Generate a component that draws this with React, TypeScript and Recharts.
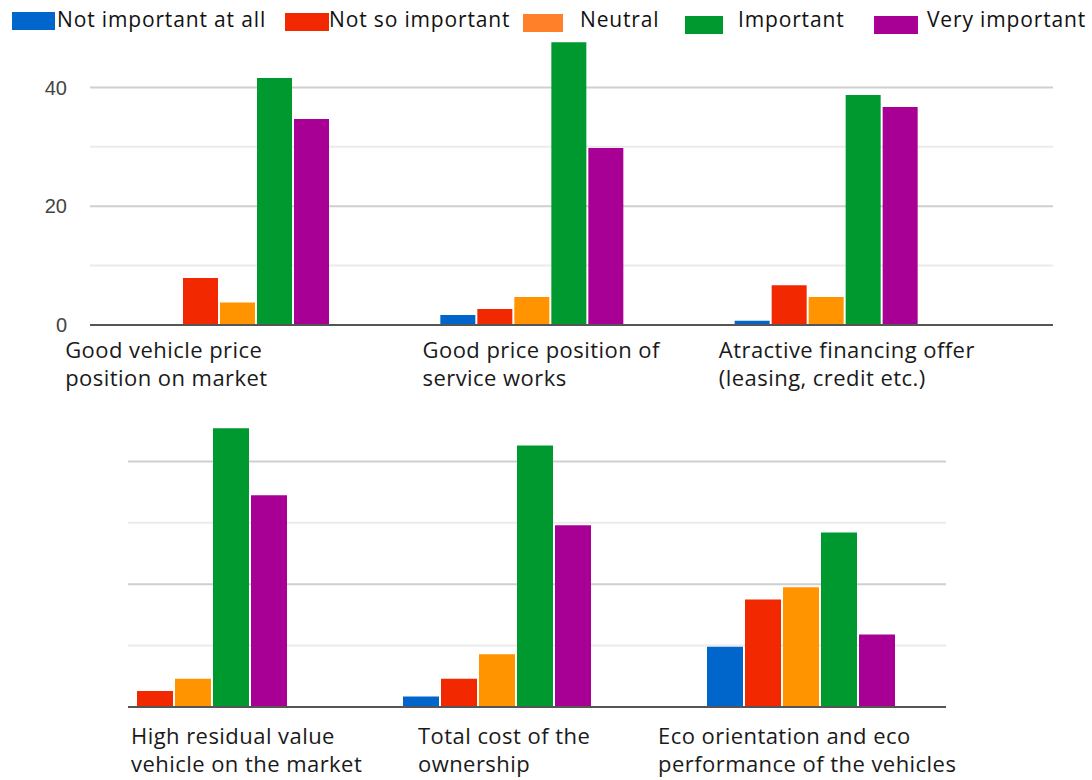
import React from "react";
import { BarChart, Bar, XAxis, YAxis, CartesianGrid, Legend } from "recharts";

const seriesNames = ["Not important at all", "Not so important", "Neutral", "Important", "Very important"];
const seriesKeys = ["notImportant", "notSo", "neutral", "important", "very"];
const barColors = ["#0066CC", "#F22900", "#FF9300", "#009930", "#A80094"];
const legendColors = ["#0066CC", "#F22900", "#FF8028", "#009930", "#A80094"];

const topCategories = [
  "Good vehicle price\nposition on market",
  "Good price position of\nservice works",
  "Atractive financing offer\n(leasing, credit etc.)",
];
const notImportantTop = [0, 1.7, 0.7];
const notSoTop = [7.9, 2.7, 6.7];
const neutralTop = [3.8, 4.7, 4.7];
const importantTop = [41.6, 47.6, 38.7];
const veryTop = [34.7, 29.8, 36.7];

const bottomCategories = [
  "High residual value\nvehicle on the market",
  "Total cost of the\nownership",
  "Eco orientation and eco\nperformance of the vehicles",
];
const notImportantBottom = [0, 1.7, 9.8];
const notSoBottom = [2.6, 4.6, 17.5];
const neutralBottom = [4.6, 8.6, 19.5];
const importantBottom = [45.4, 42.6, 28.4];
const veryBottom = [34.5, 29.6, 11.8];

const yDomain = [0, 50];
const yTickValues = [0, 20, 40];
const majorGrid = [20, 40];
const minorGrid = [10, 30];

function buildRows(cats: string[], cols: number[][]) {
  return cats.map((c, i) => {
    const row: any = { category: c };
    seriesKeys.forEach((k, j) => {
      row[k] = cols[j][i];
    });
    return row;
  });
}

const topData = buildRows(topCategories, [notImportantTop, notSoTop, neutralTop, importantTop, veryTop]);
const bottomData = buildRows(bottomCategories, [
  notImportantBottom,
  notSoBottom,
  neutralBottom,
  importantBottom,
  veryBottom,
]);

const labelFont = "'Open Sans', 'Noto Sans', sans-serif";

function makeTick(dxs: number[], dy1: number, lineGap: number) {
  return (props: any) => {
    const { x, y, payload, index } = props;
    const lines = String(payload.value).split("\n");
    return (
      <text
        x={x + dxs[index]}
        y={y + dy1}
        textAnchor="start"
        fill="#1a1a1a"
        fontSize={22}
        letterSpacing={0.45}
        fontFamily={labelFont}
      >
        {lines.map((l, i) => (
          <tspan key={i} x={x + dxs[index]} dy={i === 0 ? 0 : lineGap}>
            {l}
          </tspan>
        ))}
      </text>
    );
  };
}

const legendSquareLeft = [12, 285, 523, 685, 874];
const legendSquareWidth = [43, 44, 40, 38, 44];
const legendSquareTop = [12, 13, 14, 16, 16];
const legendTextLeft = [57, 329, 580, 738, 927];

function LegendContent() {
  return (
    <div style={{ position: "relative", width: 1092, height: 40 }}>
      {seriesNames.map((n, i) => (
        <React.Fragment key={n}>
          <div
            style={{
              position: "absolute",
              left: legendSquareLeft[i],
              top: legendSquareTop[i],
              width: legendSquareWidth[i],
              height: 18,
              background: legendColors[i],
            }}
          />
          <div
            style={{
              position: "absolute",
              left: legendTextLeft[i],
              top: 5,
              fontSize: 21,
              letterSpacing: 0.85,
              lineHeight: "28px",
              fontFamily: labelFont,
              color: "#111",
              whiteSpace: "nowrap",
            }}
          >
            {n}
          </div>
        </React.Fragment>
      ))}
    </div>
  );
}

export default function App() {
  return (
    <div
      style={{
        position: "absolute",
        left: 0,
        top: 0,
        width: 1092,
        height: 780,
        background: "#fff",
        overflow: "hidden",
      }}
    >
      <div style={{ position: "absolute", left: 0, top: 0 }}>
        <BarChart
          width={1092}
          height={400}
          data={topData}
          margin={{ top: 28, right: 39, bottom: 0, left: 0 }}
          barCategoryGap={56}
          barGap={2}
        >
          <CartesianGrid horizontalValues={minorGrid} vertical={false} stroke="#ebebeb" strokeWidth={2} />
          <CartesianGrid horizontalValues={majorGrid} vertical={false} stroke="#cfcfcf" strokeWidth={2} />
          <XAxis
            dataKey="category"
            height={75}
            padding={{ left: 0, right: 80 }}
            tickLine={false}
            tickSize={0}
            tickMargin={0}
            axisLine={{ stroke: "#555", strokeWidth: 2 }}
            tick={makeTick([-172, -109, -107], 33, 28)}
            interval={0}
          />
          <YAxis
            width={90}
            domain={yDomain}
            ticks={yTickValues}
            axisLine={false}
            tickLine={false}
            tickSize={0}
            tickMargin={23}
            tick={{ fill: "#444", fontSize: 20, fontFamily: "'Liberation Sans', Arial, sans-serif" }}
          />
          <Legend
            layout="horizontal"
            verticalAlign="middle"
            align="center"
            wrapperStyle={{ top: 0, left: 0, width: 1092 }}
            content={<LegendContent />}
          />
          {seriesKeys.map((k, i) => (
            <Bar key={k} dataKey={k} name={seriesNames[i]} fill={barColors[i]} isAnimationActive={false} />
          ))}
        </BarChart>
      </div>
      <div style={{ position: "absolute", left: 0, top: 390 }}>
        <BarChart
          width={1092}
          height={390}
          data={bottomData}
          margin={{ top: 10, right: 146, bottom: 0, left: 128 }}
          barCategoryGap={57}
          barGap={2}
        >
          <CartesianGrid horizontalValues={minorGrid} vertical={false} stroke="#ebebeb" strokeWidth={2} />
          <CartesianGrid horizontalValues={majorGrid} vertical={false} stroke="#cfcfcf" strokeWidth={2} />
          <XAxis
            dataKey="category"
            height={73}
            padding={{ left: -86, right: -8 }}
            tickLine={false}
            tickSize={0}
            tickMargin={0}
            axisLine={{ stroke: "#555", strokeWidth: 2 }}
            tick={makeTick([-63, -80, -144], 37, 28)}
            interval={0}
          />
          <YAxis hide domain={yDomain} ticks={yTickValues} />
          {seriesKeys.map((k, i) => (
            <Bar key={k} dataKey={k} name={seriesNames[i]} fill={barColors[i]} isAnimationActive={false} />
          ))}
        </BarChart>
      </div>
    </div>
  );
}
